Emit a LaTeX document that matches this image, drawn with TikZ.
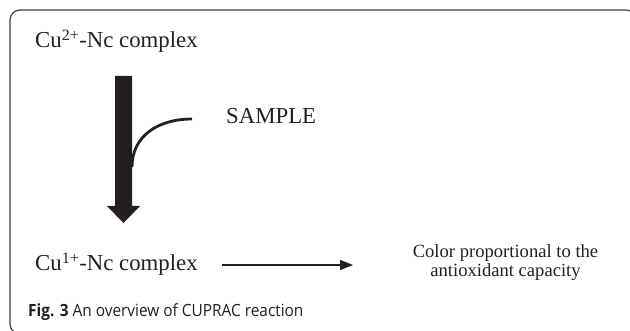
\documentclass[tikz,border=0pt]{standalone}
\usepackage{fontspec}
\setmainfont{Liberation Serif}
\newfontfamily\capfont{Open Sans}
\usetikzlibrary{arrows.meta,calc}
\definecolor{ink}{HTML}{231F20}
\begin{document}
\begin{tikzpicture}[x=1pt,y=-1pt,
  serif/.style={inner sep=0pt, text=ink, font=\fontsize{22.8}{26}\selectfont},
  small/.style={inner sep=0pt, text=ink, font=\fontsize{18.6}{19}\selectfont},
  thinarrow/.style={draw=ink, line width=1.3pt, -{Triangle[length=13pt,width=10pt]}},
  bigarrow/.style={fill=ink, draw=none},
  curveline/.style={draw=ink, line width=2.8pt}]
\useasboundingbox (0,0) rectangle (630,331);
\begin{scope}
\clip (0,0) rectangle (630,331);
\draw[black!75, line width=1.2pt, rounded corners=10pt] (10,10) rectangle (636,334);
\end{scope}
% texts
\node[serif, anchor=base west] (cu2) at (35,48) {Cu\textsuperscript{2+}-Nc complex};
\node[serif, anchor=base west] (sample) at (226,124) {SAMPLE};
\node[serif, anchor=base west] (cu1) at (35,271) {Cu\textsuperscript{1+}-Nc complex};
\node[small, anchor=base] (col1) at (505.5,258) {Color proportional to the};
\node[small, anchor=base] (col2) at (505.5,277) {antioxidant capacity};
\node[inner sep=0pt, anchor=base west, text=ink, font=\capfont\fontsize{16.8}{20}\selectfont] (cap) at (28,317) {\scalebox{0.917}[1]{\textbf{Fig. 3} An overview of CUPRAC reaction}};
% thick arrow
\fill[bigarrow] (115,76) -- (132,76) -- (132,206) -- (140,206) -- (123.5,223) -- (107,206) -- (115,206) -- cycle;
\coordinate (join) at (132,167);
\coordinate (cend) at (192,119);
\draw[curveline] (join) .. controls (132,136) and (158,119) .. (cend);
% thin arrow
\coordinate (a1) at (222,265);
\coordinate (a2) at (353,265);
\draw[thinarrow] (a1) -- (a2);
\end{tikzpicture}
\end{document}
